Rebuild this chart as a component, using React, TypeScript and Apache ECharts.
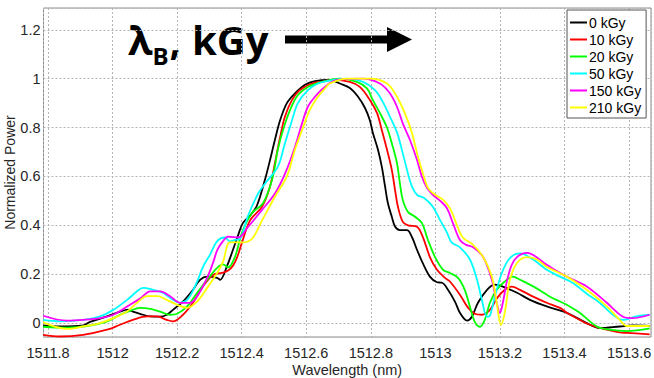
import React, { useEffect, useRef } from "react";
import * as echarts from "echarts";

// Reflection spectra of the grating after each irradiation dose: [wavelength (nm), normalized power]
const doseLabels = ["0 kGy", "10 kGy", "20 kGy", "50 kGy", "150 kGy", "210 kGy"];
const doseColors = ["#000000", "#ff0000", "#00ff00", "#00ffff", "#ff00ff", "#ffff00"];

const spectrum0: [number, number][] = [
  [1511.785, -0.01], [1511.837, -0.014], [1511.909, -0.01], [1511.93, 0.005], [1511.983, 0.027],
  [1512.023, 0.047], [1512.048, 0.055], [1512.063, 0.047], [1512.085, 0.038], [1512.117, 0.027],
  [1512.147, 0.026], [1512.168, 0.034], [1512.187, 0.054], [1512.218, 0.088], [1512.249, 0.136],
  [1512.271, 0.177], [1512.293, 0.19], [1512.324, 0.185], [1512.333, 0.177], [1512.355, 0.235],
  [1512.373, 0.3], [1512.389, 0.36], [1512.404, 0.41], [1512.426, 0.44], [1512.447, 0.48],
  [1512.472, 0.586], [1512.488, 0.668], [1512.503, 0.75], [1512.519, 0.83], [1512.54, 0.9],
  [1512.565, 0.94], [1512.596, 0.975], [1512.627, 0.99], [1512.673, 0.995], [1512.704, 0.98],
  [1512.735, 0.962], [1512.76, 0.927], [1512.782, 0.88], [1512.797, 0.83], [1512.806, 0.78],
  [1512.822, 0.71], [1512.834, 0.64], [1512.844, 0.56], [1512.853, 0.49], [1512.865, 0.435],
  [1512.875, 0.395], [1512.89, 0.38], [1512.912, 0.38], [1512.927, 0.353], [1512.943, 0.3],
  [1512.961, 0.245], [1512.983, 0.19], [1513.005, 0.167], [1513.021, 0.165], [1513.039, 0.136],
  [1513.061, 0.087], [1513.076, 0.042], [1513.098, 0.01], [1513.113, 0.026], [1513.132, 0.083],
  [1513.16, 0.136], [1513.184, 0.157], [1513.209, 0.149], [1513.253, 0.124], [1513.293, 0.095],
  [1513.345, 0.068], [1513.407, 0.042], [1513.469, 0.0], [1513.509, -0.02], [1513.571, -0.014],
  [1513.611, -0.01], [1513.664, -0.012],
];

const spectrum10: [number, number][] = [
  [1511.785, -0.048], [1511.837, -0.055], [1511.909, -0.048], [1511.983, -0.027], [1512.023, -0.007],
  [1512.063, 0.013], [1512.107, 0.027], [1512.138, 0.027], [1512.168, 0.013], [1512.187, 0.007],
  [1512.218, 0.034], [1512.249, 0.083], [1512.28, 0.15], [1512.311, 0.197], [1512.339, 0.205],
  [1512.358, 0.215], [1512.373, 0.235], [1512.386, 0.27], [1512.401, 0.33], [1512.426, 0.42],
  [1512.463, 0.476], [1512.488, 0.56], [1512.503, 0.655], [1512.519, 0.76], [1512.534, 0.845],
  [1512.556, 0.913], [1512.58, 0.953], [1512.618, 0.98], [1512.648, 0.987], [1512.683, 0.995],
  [1512.735, 0.987], [1512.766, 0.966], [1512.797, 0.913], [1512.819, 0.86], [1512.834, 0.79],
  [1512.85, 0.71], [1512.865, 0.627], [1512.875, 0.545], [1512.884, 0.476], [1512.899, 0.414],
  [1512.915, 0.4], [1512.943, 0.394], [1512.961, 0.353], [1512.983, 0.27], [1513.005, 0.218],
  [1513.03, 0.185], [1513.045, 0.17], [1513.076, 0.116], [1513.101, 0.063], [1513.122, 0.038],
  [1513.144, 0.034], [1513.169, 0.054], [1513.19, 0.1], [1513.215, 0.136], [1513.237, 0.149],
  [1513.262, 0.136], [1513.303, 0.108], [1513.345, 0.083], [1513.386, 0.062], [1513.407, 0.042],
  [1513.447, 0.013], [1513.478, -0.007], [1513.509, -0.02], [1513.531, -0.027], [1513.571, -0.038],
  [1513.593, -0.04], [1513.664, -0.046],
];

const spectrum20: [number, number][] = [
  [1511.785, -0.015], [1511.859, -0.019], [1511.93, -0.01], [1511.983, 0.007], [1512.023, 0.034],
  [1512.054, 0.05], [1512.085, 0.062], [1512.117, 0.058], [1512.147, 0.047], [1512.178, 0.034],
  [1512.2, 0.038], [1512.231, 0.068], [1512.262, 0.124], [1512.293, 0.177], [1512.324, 0.226],
  [1512.342, 0.24], [1512.358, 0.228], [1512.379, 0.27], [1512.401, 0.37], [1512.432, 0.45],
  [1512.466, 0.49], [1512.494, 0.586], [1512.512, 0.71], [1512.528, 0.79], [1512.55, 0.872],
  [1512.574, 0.933], [1512.605, 0.966], [1512.648, 0.987], [1512.704, 1.0], [1512.757, 0.987],
  [1512.788, 0.96], [1512.806, 0.913], [1512.828, 0.86], [1512.85, 0.8], [1512.865, 0.736],
  [1512.881, 0.655], [1512.89, 0.573], [1512.899, 0.504], [1512.915, 0.455], [1512.937, 0.435],
  [1512.958, 0.41], [1512.977, 0.34], [1512.999, 0.27], [1513.024, 0.218], [1513.045, 0.205],
  [1513.07, 0.185], [1513.091, 0.136], [1513.107, 0.067], [1513.122, 0.005], [1513.138, -0.015],
  [1513.153, 0.013], [1513.169, 0.083], [1513.19, 0.136], [1513.215, 0.17], [1513.24, 0.19],
  [1513.262, 0.177], [1513.303, 0.15], [1513.355, 0.108], [1513.386, 0.088], [1513.407, 0.075],
  [1513.447, 0.042], [1513.5, -0.014], [1513.54, -0.027], [1513.593, -0.033], [1513.664, -0.022],
];

const spectrum50: [number, number][] = [
  [1511.785, 0.013], [1511.837, 0.007], [1511.909, 0.013], [1511.961, 0.027], [1512.002, 0.054],
  [1512.045, 0.095], [1512.076, 0.13], [1512.094, 0.144], [1512.125, 0.136], [1512.156, 0.124],
  [1512.187, 0.095], [1512.209, 0.083], [1512.234, 0.1], [1512.262, 0.17], [1512.28, 0.23],
  [1512.302, 0.28], [1512.324, 0.335], [1512.348, 0.35], [1512.364, 0.334], [1512.379, 0.34],
  [1512.395, 0.345], [1512.42, 0.44], [1512.451, 0.53], [1512.472, 0.57], [1512.512, 0.64],
  [1512.534, 0.736], [1512.556, 0.83], [1512.574, 0.9], [1512.605, 0.953], [1512.636, 0.98],
  [1512.664, 0.99], [1512.726, 1.0], [1512.776, 0.987], [1512.813, 0.953], [1512.837, 0.905],
  [1512.859, 0.845], [1512.881, 0.78], [1512.896, 0.71], [1512.912, 0.627], [1512.927, 0.56],
  [1512.943, 0.525], [1512.967, 0.51], [1512.992, 0.476], [1513.015, 0.42], [1513.036, 0.37],
  [1513.05, 0.33], [1513.076, 0.31], [1513.107, 0.26], [1513.129, 0.177], [1513.144, 0.095],
  [1513.16, 0.026], [1513.169, 0.03], [1513.184, 0.108], [1513.206, 0.205], [1513.231, 0.266],
  [1513.262, 0.285], [1513.303, 0.26], [1513.345, 0.218], [1513.386, 0.19], [1513.426, 0.164],
  [1513.469, 0.12], [1513.509, 0.083], [1513.55, 0.034], [1513.58, 0.013], [1513.623, 0.027],
  [1513.664, 0.034],
];

const spectrum150: [number, number][] = [
  [1511.785, 0.03], [1511.859, 0.01], [1511.909, 0.013], [1511.961, 0.02], [1512.002, 0.034],
  [1512.045, 0.068], [1512.085, 0.1], [1512.117, 0.13], [1512.147, 0.13], [1512.178, 0.11],
  [1512.209, 0.083], [1512.24, 0.083], [1512.265, 0.116], [1512.293, 0.185], [1512.311, 0.246],
  [1512.325, 0.3], [1512.342, 0.335], [1512.358, 0.354], [1512.389, 0.35], [1512.42, 0.394],
  [1512.463, 0.463], [1512.503, 0.53], [1512.534, 0.61], [1512.565, 0.72], [1512.587, 0.817],
  [1512.605, 0.885], [1512.627, 0.926], [1512.652, 0.96], [1512.695, 0.995], [1512.776, 1.0],
  [1512.828, 0.98], [1512.859, 0.94], [1512.881, 0.885], [1512.899, 0.817], [1512.921, 0.75],
  [1512.943, 0.668], [1512.958, 0.6], [1512.974, 0.553], [1512.992, 0.525], [1513.015, 0.5],
  [1513.036, 0.47], [1513.054, 0.41], [1513.076, 0.34], [1513.095, 0.32], [1513.117, 0.31],
  [1513.148, 0.27], [1513.175, 0.177], [1513.19, 0.083], [1513.2, 0.042], [1513.209, 0.083],
  [1513.225, 0.19], [1513.246, 0.26], [1513.284, 0.287], [1513.345, 0.238], [1513.407, 0.19],
  [1513.469, 0.15], [1513.531, 0.083], [1513.58, 0.027], [1513.611, 0.02], [1513.664, 0.034],
];

const spectrum210: [number, number][] = [
  [1511.785, 0.003], [1511.859, -0.024], [1511.909, -0.014], [1511.961, 0.0], [1512.002, 0.02],
  [1512.045, 0.047], [1512.076, 0.083], [1512.107, 0.11], [1512.138, 0.11], [1512.168, 0.095],
  [1512.2, 0.075], [1512.231, 0.062], [1512.262, 0.088], [1512.293, 0.144], [1512.324, 0.205],
  [1512.342, 0.25], [1512.364, 0.33], [1512.401, 0.33], [1512.432, 0.345], [1512.463, 0.42],
  [1512.503, 0.517], [1512.54, 0.6], [1512.565, 0.71], [1512.59, 0.8], [1512.611, 0.872],
  [1512.636, 0.926], [1512.658, 0.96], [1512.673, 0.98], [1512.726, 1.0], [1512.797, 1.0],
  [1512.85, 0.98], [1512.881, 0.926], [1512.905, 0.86], [1512.927, 0.78], [1512.946, 0.68],
  [1512.961, 0.614], [1512.977, 0.553], [1512.999, 0.525], [1513.024, 0.504], [1513.045, 0.47],
  [1513.067, 0.4], [1513.085, 0.35], [1513.117, 0.32], [1513.148, 0.27], [1513.175, 0.19],
  [1513.19, 0.083], [1513.203, -0.007], [1513.215, 0.042], [1513.231, 0.177], [1513.253, 0.246],
  [1513.284, 0.27], [1513.315, 0.26], [1513.345, 0.23], [1513.407, 0.19], [1513.469, 0.136],
  [1513.531, 0.068], [1513.571, 0.013], [1513.593, -0.012], [1513.664, -0.012],
];

const spectra = [spectrum0, spectrum10, spectrum20, spectrum50, spectrum150, spectrum210];

const wavelengthMin = 1511.786;
const wavelengthMax = 1513.668;
const powerMin = -0.057;
const powerMax = 1.289;

const FONT = '"Liberation Sans", Arial, sans-serif';
const TEXT_COLOR = "#262626";
const TITLE_FONT = '"Open Sans", sans-serif';

export default function App() {
  const ref = useRef<HTMLDivElement>(null);

  useEffect(() => {
    if (!ref.current) return;
    const chart = echarts.init(ref.current, undefined, { renderer: "svg" });

    const gridLine = { show: true, lineStyle: { color: "#b4b4b4", width: 1, type: [2, 2] as number[] } };

    const annotationText = (text: string, x: number, y: number, size: number) => ({
      type: "text",
      silent: true,
      style: {
        x,
        y,
        text,
        fill: "#000",
        font: `bold ${size}px ${TITLE_FONT}`,
        textVerticalAlign: "middle",
      },
    });

    chart.setOption({
      animation: false,
      backgroundColor: "#ffffff",
      textStyle: { fontFamily: FONT },
      grid: {
        left: 43.5,
        right: 3,
        top: 8,
        bottom: 41,
        outerBoundsMode: "none",
        show: true,
        borderColor: "#8c8c8c",
        borderWidth: 1,
        backgroundColor: "transparent",
      },
      legend: {
        orient: "vertical",
        left: 567,
        top: 10,
        padding: [4, 5, 2, 3],
        itemGap: 0,
        itemWidth: 17,
        itemHeight: 2,
        icon: "rect",
        backgroundColor: "#ffffff",
        borderColor: "#555555",
        borderWidth: 1,
        borderRadius: 0,
        textStyle: { fontFamily: FONT, fontSize: 14, color: "#000000", lineHeight: 17, padding: [0, 0, 0, -3] },
        data: doseLabels.map((name, i) => ({ name, icon: "rect", itemStyle: { color: doseColors[i] } })),
      },
      xAxis: {
        type: "value",
        min: wavelengthMin,
        max: wavelengthMax,
        minInterval: 0.2,
        maxInterval: 0.2,
        splitNumber: 9,
        name: "Wavelength (nm)",
        nameLocation: "middle",
        nameGap: 25,
        nameMoveOverlap: false,
        nameTextStyle: { fontFamily: FONT, fontSize: 14.5, color: TEXT_COLOR },
        axisLine: { show: false },
        axisTick: { show: false },
        axisLabel: {
          fontFamily: FONT,
          fontSize: 14.5,
          color: TEXT_COLOR,
          margin: 8,
          showMinLabel: false,
          showMaxLabel: false,
          formatter: (v: number) => String(Math.round(v * 10) / 10),
        },
        splitLine: gridLine,
      },
      yAxis: {
        type: "value",
        min: powerMin,
        max: powerMax,
        minInterval: 0.2,
        maxInterval: 0.2,
        splitNumber: 6,
        name: "Normalized Power",
        nameLocation: "middle",
        nameGap: 26.5,
        nameMoveOverlap: false,
        nameTextStyle: { fontFamily: FONT, fontSize: 14, color: TEXT_COLOR },
        axisLine: { show: false },
        axisTick: { show: false },
        axisLabel: {
          fontFamily: FONT,
          fontSize: 14.5,
          color: TEXT_COLOR,
          margin: 3,
          showMinLabel: false,
          showMaxLabel: false,
          formatter: (v: number) => String(Math.round(v * 10) / 10),
        },
        splitLine: gridLine,
      },
      series: spectra.map((data, i) => ({
        name: doseLabels[i],
        type: "line",
        data,
        smooth: 0.35,
        symbol: "none",
        clip: true,
        lineStyle: { color: doseColors[i], width: 1.8 },
        itemStyle: { color: doseColors[i] },
      })),
      graphic: [
        annotationText("λ", 128, 39, 40),
        annotationText("B", 152.5, 55, 24),
        annotationText(",", 169.5, 39, 40),
        annotationText("kGy", 192, 39, 40),
        {
          type: "rect",
          silent: true,
          shape: { x: 285, y: 35.5, width: 104, height: 8 },
          style: { fill: "#000" },
        },
        {
          type: "polygon",
          silent: true,
          shape: { points: [[387, 27], [412, 39.5], [387, 52]] },
          style: { fill: "#000" },
        },
      ],
    });

    return () => chart.dispose();
  }, []);

  return (
    <div
      ref={ref}
      style={{ position: "fixed", left: 0, top: 0, width: 654, height: 378 }}
    />
  );
}
